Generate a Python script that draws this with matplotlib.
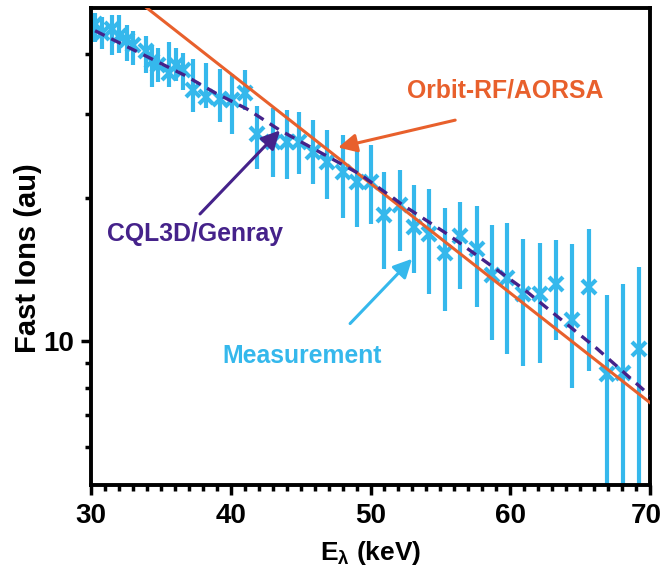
import numpy as np
import matplotlib
matplotlib.use("Agg")
import matplotlib.pyplot as plt
import matplotlib.transforms as mtransforms
from matplotlib import font_manager
from matplotlib.ticker import FixedLocator, NullFormatter, FixedFormatter

# ── fonts: narrow bold sans if we have it ─────────────
try:
    font_manager.findfont("Liberation Sans Narrow", fallback_to_default=False)
    FAM = ["Liberation Sans Narrow", "DejaVu Sans"]
except Exception:
    FAM = ["Liberation Sans", "DejaVu Sans"]
plt.rcParams["font.family"] = FAM
plt.rcParams["font.weight"] = "bold"
plt.rcParams["mathtext.fontset"] = "custom"
plt.rcParams["mathtext.rm"] = FAM[0] + ":bold"
plt.rcParams["mathtext.it"] = FAM[0] + ":bold"

FS_TICK = 20
FS_YLAB = 21
FS_XLAB = 19
FS_NOTE = 17.8

C_MEAS = "#35B8EC"
C_ORB = "#E8602C"
C_CQL = "#45228A"

# ── measurement (Eλ in keV, fast ions in au) ──────────
meas_E = [30.3, 30.8, 31.5, 32.0, 32.6, 33.0, 33.9, 34.4, 34.8, 35.6, 36.1,
          36.6, 37.3, 38.2, 39.2, 40.1, 41.0, 41.9, 43.0, 44.0, 44.9, 45.9,
          46.9, 48.0, 49.0, 50.0, 51.0, 52.1, 53.1, 54.2, 55.3, 56.4, 57.6,
          58.7, 59.8, 60.9, 62.1, 63.3, 64.4, 65.6, 66.9, 68.1, 69.2]
meas_y = [46.3, 44.4, 45.2, 43.7, 42.9, 41.9, 40.7, 38.8, 38.0, 36.6, 37.9,
          37.1, 33.6, 32.5, 32.2, 32.0, 33.2, 27.2, 26.2, 26.2, 26.2, 24.9,
          23.8, 22.7, 21.6, 21.6, 18.4, 19.3, 17.4, 16.8, 15.3, 16.6, 15.6,
          13.8, 13.6, 12.6, 12.6, 13.2, 11.1, 13.0, 8.56, 8.60, 9.65]
meas_hi = [48.8, 47.9, 48.3, 48.3, 46.1, 44.8, 43.7, 41.7, 41.3, 42.5, 41.3,
           40.3, 39.0, 38.4, 37.3, 36.3, 37.1, 31.2, 30.9, 30.5, 30.2, 29.1,
           27.8, 27.1, 25.5, 25.8, 22.7, 22.9, 21.3, 20.9, 19.0, 19.6, 19.2,
           17.5, 17.7, 16.4, 16.1, 16.3, 16.0, 17.2, 12.5, 13.2, 14.3]
meas_lo = [42.5, 41.1, 39.9, 40.3, 38.8, 37.9, 36.6, 34.1, 34.9, 34.1, 35.2,
           33.6, 30.2, 30.9, 28.8, 27.2, 30.5, 23.0, 22.1, 21.9, 22.4, 21.4,
           19.9, 18.1, 17.4, 17.6, 14.2, 15.5, 13.9, 12.6, 11.6, 12.9, 11.8,
           10.05, 9.42, 8.89, 9.02, 10.07, 8.00, 8.68, 4.0, 4.0, 4.0]

# ── models ────────────────────────────────────────────
orbit_E = [30.0, 70.0]
orbit_y = [61.8, 7.44]

cql_E = [30.29, 36.73, 38.88, 41.17, 43.53, 49.26, 52.33, 55.48, 60.92, 66.22, 70.0]
cql_y = [44.8, 36.1, 33.2, 30.7, 27.7, 22.4, 19.3, 16.8, 12.9, 9.65, 7.7]

x_ticks = [30, 40, 50, 60, 70]

# ── figure ────────────────────────────────────────────
fig = plt.figure(figsize=(6.62, 5.76), dpi=100)
ax = fig.add_axes([91 / 662, 1 - 485 / 576, 559 / 662, 477 / 576])

me = np.array(meas_y)
yerr = [me - np.array(meas_lo), np.array(meas_hi) - me]
ax.errorbar(meas_E, meas_y, yerr=yerr, fmt="x", color=C_MEAS, ms=10, mew=3,
            elinewidth=3, capsize=0, zorder=2)

ax.plot(orbit_E, orbit_y, color=C_ORB, lw=2.2, zorder=4)
ax.plot(cql_E, cql_y, color=C_CQL, lw=2.4, ls=(0, (3.2, 2.2)), zorder=5)

ax.set_yscale("log")
ax.set_xlim(30, 70)
ax.set_ylim(5, 50)

ax.xaxis.set_major_locator(FixedLocator(x_ticks))
ax.xaxis.set_minor_locator(FixedLocator(np.arange(30, 71, 1)))
ax.yaxis.set_major_locator(FixedLocator([10]))
ax.yaxis.set_major_formatter(FixedFormatter(["10"]))
ax.yaxis.set_minor_locator(FixedLocator([6, 7, 8, 9, 20, 30, 40]))
ax.yaxis.set_minor_formatter(NullFormatter())

ax.tick_params(which="major", direction="out", length=7, width=2.5,
               labelsize=FS_TICK)
ax.tick_params(axis="x", which="major", pad=6)
ax.tick_params(axis="y", which="major", pad=5)
ax.tick_params(which="minor", direction="out", length=4.5, width=2.5)
ax.tick_params(top=False, right=False)
for s in ax.spines.values():
    s.set_linewidth(2.8)

ax.set_xlabel(r"E$_{\lambda}$ (keV)", fontsize=FS_XLAB, fontweight="bold", labelpad=7)
ax.set_ylabel("Fast Ions (au)", fontsize=FS_YLAB, fontweight="bold", labelpad=1)
ax.yaxis.label.set_y(0.476)

# keep the "70" label inside the canvas
fig.canvas.draw()
last = ax.get_xticklabels()[-1]
last.set_transform(last.get_transform()
                   + mtransforms.ScaledTranslation(-4 / 100, 0, fig.dpi_scale_trans))

# ── annotations ──────────────────────────────────────
arw = dict(arrowstyle="-|>", lw=2.2, mutation_scale=28, shrinkA=0, shrinkB=0)
ax.annotate("", xy=(47.68, 25.5), xytext=(56.06, 29.1),
            arrowprops=dict(arw, color=C_ORB), zorder=6)
ax.annotate("", xy=(43.53, 27.7), xytext=(37.8, 18.5),
            arrowprops=dict(arw, color=C_CQL), zorder=6)
ax.annotate("", xy=(52.98, 14.9), xytext=(48.54, 10.9),
            arrowprops=dict(arw, color=C_MEAS), zorder=6)

ax.text(59.63, 33.6, "Orbit-RF/AORSA", color=C_ORB, fontsize=FS_NOTE,
        fontweight="bold", ha="center", va="center")
ax.text(37.44, 16.8, "CQL3D/Genray", color=C_CQL, fontsize=FS_NOTE,
        fontweight="bold", ha="center", va="center")
ax.text(45.1, 9.33, "Measurement", color=C_MEAS, fontsize=FS_NOTE,
        fontweight="bold", ha="center", va="center")

fig.savefig("out.png", dpi=100)
